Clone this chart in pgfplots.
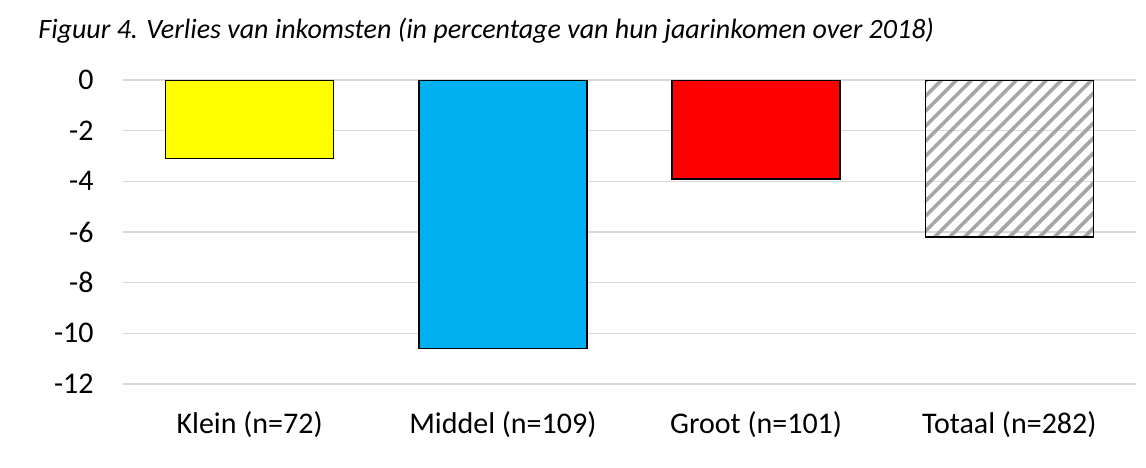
\documentclass[border=0pt]{standalone}
\usepackage{fontspec}
\setmainfont{Carlito}
\usepackage{pgfplots}
\pgfplotsset{compat=1.18}
\usetikzlibrary{calc,patterns.meta}

\definecolor{klein}{HTML}{FFFF00}
\definecolor{middel}{HTML}{00B0F0}
\definecolor{groot}{HTML}{FF0000}
\definecolor{hatch}{HTML}{A6A6A6}
\definecolor{gridc}{HTML}{D9D9D9}

\begin{document}
\begin{tikzpicture}
\begin{axis}[
    name=ax,
    scale only axis,
    width=506.5pt, height=152pt,
    ybar, bar width=84pt, bar shift=0pt,
    xmin=-0.5, xmax=3.5,
    ymin=-12, ymax=0,
    ytick={-12,-10,...,0},
    xtick={0,1,2,3},
    xticklabels={Klein (n=72), Middel (n=109), Groot (n=101), Totaal (n=282)},
    ymajorgrids,
    grid style={gridc, line width=0.75pt},
    axis line style={draw=none},
    major tick length=0pt,
    /pgf/number format/assume math mode=true,
    tick label style={font=\fontsize{15}{17}\selectfont},
    yticklabel style={anchor=east, inner sep=0pt, xshift=-14.5pt},
    xticklabel style={anchor=base, inner sep=0pt, yshift=-24.5pt},
    every axis plot/.append style={draw=black, line width=0.75pt},
]
\addplot[fill=klein] coordinates {(0,-3.1)};
\addplot[fill=middel] coordinates {(1,-10.6)};
\addplot[fill=groot] coordinates {(2,-3.9)};
\addplot[pattern={Lines[angle=45,distance=5.3pt,line width=1.8pt]}, pattern color=hatch] coordinates {(3,-6.2)};
\end{axis}
\node[anchor=base west, inner sep=0pt, font=\fontsize{14}{16}\selectfont\itshape]
  at ($(ax.south west)+(-42.5pt,172.5pt)$)
  {Figuur 4. Verlies van inkomsten (in percentage van hun jaarinkomen over 2018)};
\path[use as bounding box] ($(ax.south west)+(-61.5pt,-41.5pt)$) rectangle ++(573pt,233.5pt);
\end{tikzpicture}
\end{document}
